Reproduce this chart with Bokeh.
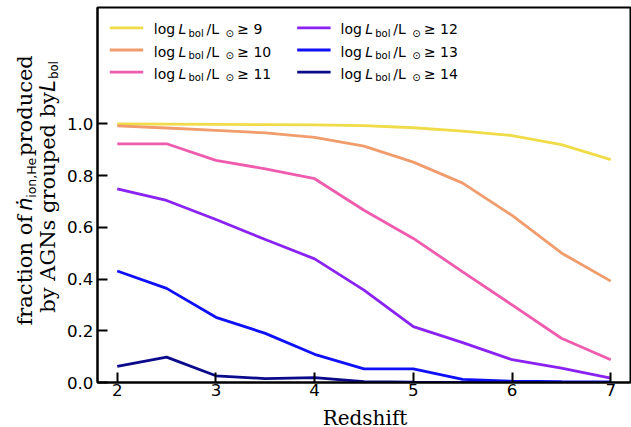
import numpy as np
from bokeh.plotting import figure
from bokeh.layouts import row, column
from bokeh.models import Label, Arrow, FixedTicker
from bokeh.core.properties import value
from bokeh.embed import file_html
from bokeh.resources import INLINE

# ---------------- data ----------------
redshift = [2, 2.5, 3, 3.5, 4, 4.5, 5, 5.5, 6, 6.5, 7]
frac_ge9 = [1.000, 0.999, 0.998, 0.997, 0.996, 0.993, 0.985, 0.972, 0.955, 0.920, 0.862]
frac_ge10 = [0.992, 0.984, 0.975, 0.965, 0.948, 0.914, 0.852, 0.771, 0.646, 0.501, 0.392]
frac_ge11 = [0.923, 0.923, 0.859, 0.826, 0.788, 0.666, 0.557, 0.428, 0.300, 0.171, 0.088]
frac_ge12 = [0.749, 0.704, 0.630, 0.553, 0.478, 0.357, 0.216, 0.154, 0.088, 0.056, 0.017]
frac_ge13 = [0.431, 0.364, 0.252, 0.190, 0.109, 0.053, 0.053, 0.012, 0.005, 0.003, 0.002]
frac_ge14 = [0.062, 0.098, 0.026, 0.015, 0.019, 0.003, 0.001, 0.0, 0.0, 0.0, 0.0]
thresholds = [9, 10, 11, 12, 13, 14]
series = [frac_ge9, frac_ge10, frac_ge11, frac_ge12, frac_ge13, frac_ge14]
colors = ["#f0dc48", "#f09c6c", "#ef5cae", "#8a22f2", "#1010f8", "#0a0a8a"]

x_ticks = [2, 3, 4, 5, 6, 7]
x_tick_labels = ["2", "3", "4", "5", "6", "7"]
y_ticks = [0.0, 0.2, 0.4, 0.6, 0.8, 1.0]
y_tick_labels = ["0.0", "0.2", "0.4", "0.6", "0.8", "1.0"]

# ---------------- layout sizes ----------------
TOTAL_W, TOTAL_H = 631, 427
YT_W = 62            # strip with the y title
XT_H = 24            # strip with the x title
TOP_H = TOTAL_H - XT_H
MAIN_W = TOTAL_W - YT_W
BL, BR, BT, BB = 35, 1, 7, 21
FH = TOP_H - BT - BB
BASE_FIX = 0.24      # bokeh draws "alphabetic" text a little low; lift by this * size

p = figure(width=MAIN_W, height=TOP_H, x_range=(1.8, 7.2), y_range=(0, 1.45),
           output_backend="svg", toolbar_location=None, title=None,
           min_border_left=BL, min_border_right=BR, min_border_top=BT,
           min_border_bottom=BB)
p.xgrid.visible = False
p.ygrid.visible = False
p.outline_line_color = "black"
p.outline_line_width = 2
p.outline_line_alpha = 1.0
p.background_fill_color = "white"
p.border_fill_color = "white"

for ax in (p.xaxis[0], p.yaxis[0]):
    ax.major_tick_in = 10
    ax.major_tick_out = 0
    ax.minor_tick_in = 0
    ax.minor_tick_out = 0
    ax.major_tick_line_width = 2
    ax.major_tick_line_color = "black"
    ax.axis_line_width = 2
    ax.axis_line_color = "black"
    ax.major_label_text_font = "DejaVu Sans"
    ax.major_label_text_font_size = "16.7px"
    ax.major_label_text_color = "black"
    ax.axis_label = None

p.xaxis.ticker = FixedTicker(ticks=x_ticks)
p.xaxis.major_label_overrides = dict(zip(x_ticks, x_tick_labels))
p.xaxis.major_label_standoff = 1
p.yaxis.ticker = FixedTicker(ticks=y_ticks)
p.yaxis.major_label_overrides = dict(zip(y_ticks, y_tick_labels))
p.yaxis.major_label_standoff = 4

for ys, c in zip(series, colors):
    p.line(redshift, ys, line_color=c, line_width=2.8)


def txt(fig, x, y, s, size, font="DejaVu Sans", style="normal", align="left"):
    fig.add_layout(Label(x=x, y=y + BASE_FIX * size, x_units="screen", y_units="screen",
                         text=s, text_font=font, text_font_size=f"{size}px",
                         text_font_style=style, text_color="black",
                         text_baseline="alphabetic", text_align=align))


# ---------------- legend (inside main frame) ----------------
for i, (thr, c) in enumerate(zip(thresholds, colors)):
    col, rw = i // 3, i % 3
    lx0 = 12.3 + col * 187.4
    ly = FH - (20.3 + rw * 22.2)
    p.add_layout(Arrow(x_start=lx0, y_start=ly, x_end=lx0 + 33.4, y_end=ly,
                       start_units="screen", end_units="screen", end=None,
                       line_color=c, line_width=2.8))
    bx = 56.3 + col * 186.7
    base = FH - (25.3 + rw * 22.2)
    sub = base - 2.7
    txt(p, bx, base, "log", 14)
    txt(p, bx + 24.7, base, "L", 14, style="italic")
    txt(p, bx + 34.7, sub, "bol", 10)
    txt(p, bx + 52.7, base, "/L", 14)
    txt(p, bx + 71.7, sub, "\u2299", 10)
    txt(p, bx + 83.4, base, f"\u2265 {thr}", 14)


def blank(w, h):
    f = figure(width=w, height=h, x_range=(0, w), y_range=(0, h),
               output_backend="svg", toolbar_location=None, title=None,
               x_axis_location=None, y_axis_location=None, min_border=0)
    f.xgrid.visible = False
    f.ygrid.visible = False
    f.outline_line_color = None
    f.background_fill_color = "white"
    f.border_fill_color = "white"
    return f


def gtext(fig, x, y, s, size, font, style="normal", vertical=False, align="left"):
    if vertical:
        x, y, angle = x - BASE_FIX * size, y, np.pi / 2
    else:
        x, y, angle = x, y + BASE_FIX * size, 0.0
    fig.text(x=[x], y=[y], text=[s], angle=angle, text_font=value(font),
             text_font_size=value(f"{size}px"), text_font_style=style,
             text_color="black", text_baseline="alphabetic", text_align=align)


# ---------------- y title strip ----------------
yt = blank(YT_W, TOP_H)
SER = "DejaVu Serif"
SANS = "DejaVu Sans"
L1, L2 = 30.0, 53.0
gtext(yt, L1, 61.3, "fraction of", 21.0, SER, vertical=True)
gtext(yt, L1, 184.5, "\u1e45", 21.0, SANS, style="italic", vertical=True)
gtext(yt, L1 + 3.5, 198.5, "ion,He", 12.5, SANS, vertical=True)
gtext(yt, L1, 243.5, "produced", 21.0, SER, vertical=True)
gtext(yt, L2, 75.0, "by AGNs grouped by", 21.0, SER, vertical=True)
gtext(yt, L2, 312.5, "L", 21.0, SANS, style="italic", vertical=True)
gtext(yt, L2 + 3.5, 326.5, "bol", 11.5, SANS, vertical=True)

# ---------------- x title strip ----------------
xt = blank(TOTAL_W, XT_H)
gtext(xt, 364.5, 5.0, "Redshift", 20.0, SER, align="center")

layout = column(row(yt, p, spacing=0), xt, spacing=0)

open("out.html", "w").write(file_html(layout, INLINE))
